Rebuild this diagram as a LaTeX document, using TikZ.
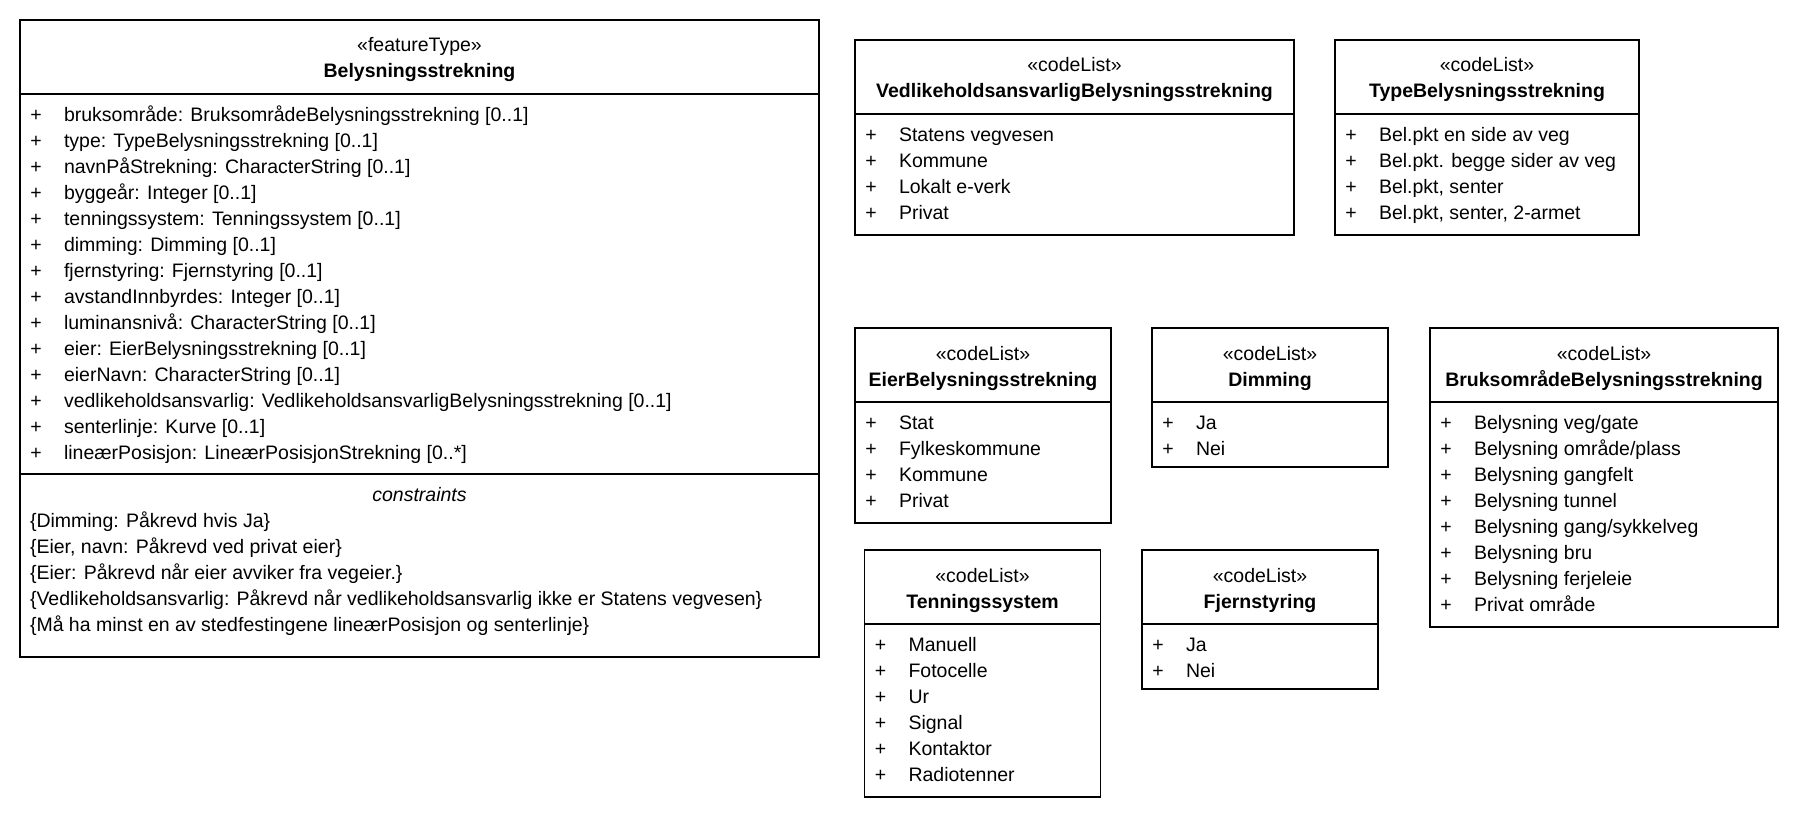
\documentclass[tikz,border=0pt]{standalone}
\usepackage{fontspec}
\setmainfont{Liberation Sans}
\tikzset{
  every node/.style={font=\fontsize{19.5}{23}\selectfont, inner sep=0pt, outer sep=0pt},
  umlframe/.style={draw=black, line width=1.2pt, rectangle, anchor=north west},
  divline/.style={draw=black, line width=1.2pt},
  itemtext/.style={anchor=base west},
  plustext/.style={anchor=base},
  stereo/.style={anchor=base},
  titletext/.style={anchor=base, font=\fontsize{19.5}{23}\selectfont\bfseries},
}
% #1 name, #2 left, #3 top, #4 right, #5 bottom, #6 stereotype, #7 title
\newcommand{\umlclassbox}[7]{%
  \node[umlframe, minimum width={(#4-#2)*1pt}, minimum height={(#5-#3)*1pt}] (#1) at (#2,#3) {};
  \node[stereo] (#1-st) at ([yshift=-32pt]#1.north) {«#6»};
  \node[titletext] (#1-ti) at ([yshift=-58pt]#1.north) {#7};
  \draw[divline] ([yshift=-74pt]#1.north west) -- ([yshift=-74pt]#1.north east);
}
% #1 name, #2 list of items
\newcommand{\umlitems}[2]{%
  \foreach \t [count=\i from 0] in {#2} {
    \node[plustext] (#1-p\i) at ([xshift=16pt, yshift={-(101.5+26*\i)*1pt}]#1.north west) {+};
    \node[itemtext] (#1-a\i) at ([xshift=44pt, yshift={-(101.5+26*\i)*1pt}]#1.north west) {\t};
  }%
}
\begin{document}
\begin{tikzpicture}[x=1pt, y=-1pt]
\useasboundingbox (0,0) rectangle (1794,818);

% main feature type
\umlclassbox{main}{20}{20}{819}{657}{featureType}{Belysningsstrekning}
\umlitems{main}{
  {bruksområde: BruksområdeBelysningsstrekning [0..1]},
  {type: TypeBelysningsstrekning [0..1]},
  {navnPåStrekning: CharacterString [0..1]},
  {byggeår: Integer [0..1]},
  {tenningssystem: Tenningssystem [0..1]},
  {dimming: Dimming [0..1]},
  {fjernstyring: Fjernstyring [0..1]},
  {avstandInnbyrdes: Integer [0..1]},
  {luminansnivå: CharacterString [0..1]},
  {eier: EierBelysningsstrekning [0..1]},
  {eierNavn: CharacterString [0..1]},
  {vedlikeholdsansvarlig: VedlikeholdsansvarligBelysningsstrekning [0..1]},
  {senterlinje: Kurve [0..1]},
  {lineærPosisjon: LineærPosisjonStrekning [0..*]}}
\draw[divline] ([yshift=-454pt]main.north west) -- ([yshift=-454pt]main.north east);
\node[anchor=base, font=\fontsize{19.5}{23}\selectfont\itshape] (main-ct) at ([yshift=-481.5pt]main.north) {constraints};
\foreach \t [count=\i from 0] in {
  {\{Dimming: Påkrevd hvis Ja\}},
  {\{Eier, navn: Påkrevd ved privat eier\}},
  {\{Eier: Påkrevd når eier avviker fra vegeier.\}},
  {\{Vedlikeholdsansvarlig: Påkrevd når vedlikeholdsansvarlig ikke er Statens vegvesen\}},
  {\{Må ha minst en av stedfestingene lineærPosisjon og senterlinje\}}} {
  \node[itemtext] (main-c\i) at ([xshift=10pt, yshift={-(507.5+26*\i)*1pt}]main.north west) {\t};
}

% code lists
\umlclassbox{ved}{855}{40}{1294}{235}{codeList}{VedlikeholdsansvarligBelysningsstrekning}
\umlitems{ved}{{Statens vegvesen},{Kommune},{Lokalt e-verk},{Privat}}

\umlclassbox{typ}{1335}{40}{1639}{235}{codeList}{TypeBelysningsstrekning}
\umlitems{typ}{{Bel.pkt en side av veg},{Bel.pkt. begge sider av veg},{Bel.pkt, senter},{Bel.pkt, senter, 2-armet}}

\umlclassbox{eier}{855}{328}{1111}{523}{codeList}{EierBelysningsstrekning}
\umlitems{eier}{{Stat},{Fylkeskommune},{Kommune},{Privat}}

\umlclassbox{dim}{1152}{328}{1388}{467}{codeList}{Dimming}
\umlitems{dim}{{Ja},{Nei}}

\umlclassbox{bruk}{1430}{328}{1778}{627}{codeList}{BruksområdeBelysningsstrekning}
\umlitems{bruk}{{Belysning veg/gate},{Belysning område/plass},{Belysning gangfelt},{Belysning tunnel},{Belysning gang/sykkelveg},{Belysning bru},{Belysning ferjeleie},{Privat område}}

\umlclassbox{tenn}{864.5}{550}{1100.5}{797}{codeList}{Tenningssystem}
\umlitems{tenn}{{Manuell},{Fotocelle},{Ur},{Signal},{Kontaktor},{Radiotenner}}

\umlclassbox{fjern}{1142}{550}{1378}{689}{codeList}{Fjernstyring}
\umlitems{fjern}{{Ja},{Nei}}
\end{tikzpicture}
\end{document}
